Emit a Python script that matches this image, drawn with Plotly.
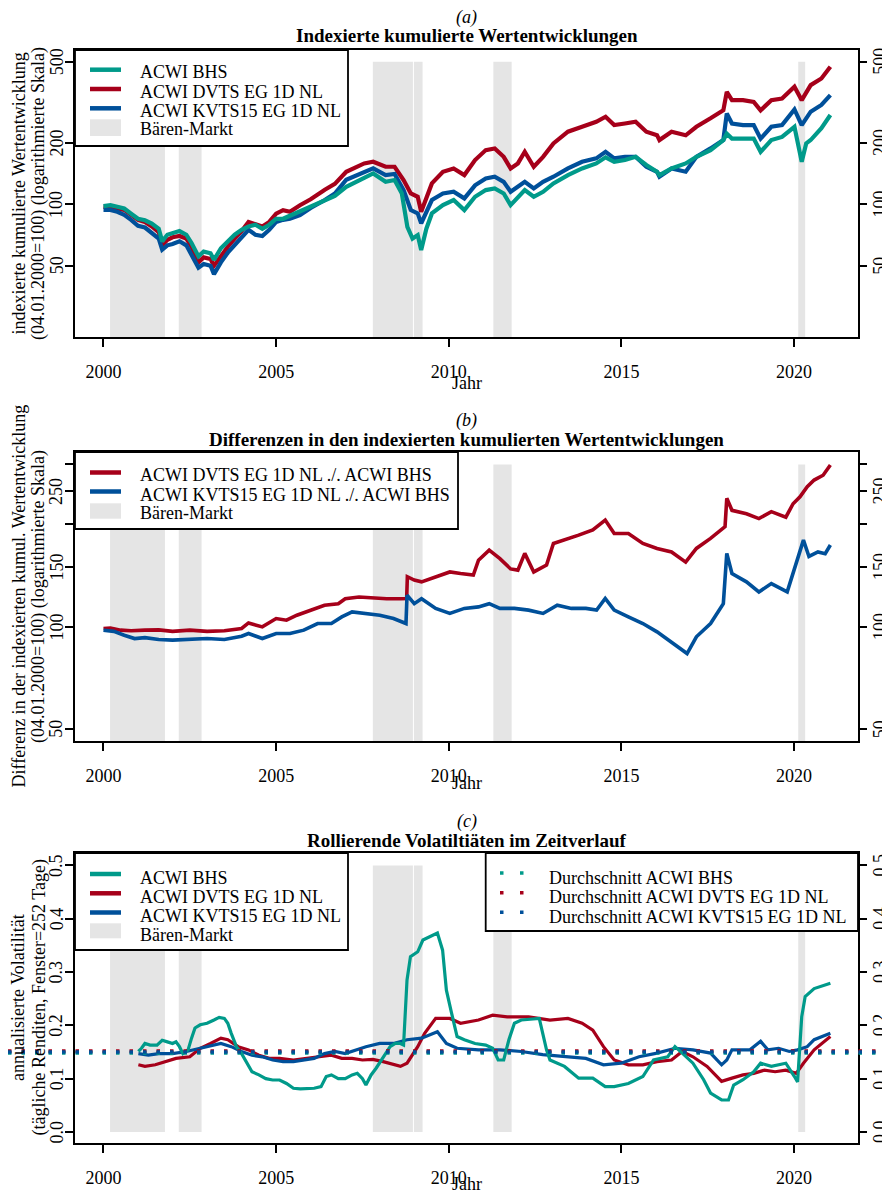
import math
import plotly.graph_objects as go

FONT = "Liberation Serif"
C_BHS = "#009A8A"
C_DVTS = "#A6001A"
C_KVTS = "#00509A"
C_BEAR = "#E5E5E5"

# ---------------- data ----------------
bear_start = [2000.19, 2002.18, 2007.80, 2008.99, 2011.29, 2020.12]
bear_end = [2001.78, 2002.84, 2008.96, 2009.24, 2011.82, 2020.32]

# Panel (a): indexed cumulative performance (04.01.2000 = 100)
a_bhs_t = [2000.0, 2000.2, 2000.4, 2000.6, 2000.8, 2001.0, 2001.2, 2001.4, 2001.6, 2001.7, 2001.85, 2002.0, 2002.2,
           2002.4, 2002.55, 2002.75, 2002.9, 2003.1, 2003.2, 2003.4, 2003.6, 2003.8, 2004.0, 2004.2, 2004.4, 2004.6,
           2004.8, 2005.0, 2005.2, 2005.4, 2005.69, 2006.0, 2006.41, 2006.7, 2007.03, 2007.55, 2007.81, 2008.17,
           2008.43, 2008.64, 2008.8, 2008.95, 2009.1, 2009.2, 2009.35, 2009.51, 2009.83, 2010.14, 2010.45, 2010.76,
           2011.07, 2011.33, 2011.59, 2011.79, 2012.0, 2012.2, 2012.46, 2012.73, 2013.03, 2013.45, 2013.86, 2014.27,
           2014.54, 2014.79, 2015.1, 2015.41, 2015.72, 2016.03, 2016.1, 2016.45, 2016.86, 2017.17, 2017.58, 2017.95,
           2018.05, 2018.2, 2018.52, 2018.83, 2019.03, 2019.34, 2019.65, 2020.01, 2020.15, 2020.22, 2020.35, 2020.48,
           2020.79, 2021.05]
a_bhs_v = [98.1, 99.2, 97.3, 95.5, 90, 85, 83.6, 80.6, 76, 65.9, 71, 72.6, 74,
           71, 64.7, 55.6, 58.7, 57.6, 53.5, 61, 65.9, 71, 75, 78, 79.5, 76,
           79.5, 85, 85, 88, 92, 98, 104, 110, 122, 134, 141.8, 129,
           131.6, 113, 77.6, 68, 70.7, 59.7, 76, 90.3, 99.2, 105, 93.8, 109,
           117.5, 119.8, 113, 99.2, 109, 117.5, 109, 115.3, 126.7, 139.2, 150, 158.7,
           170, 161.7, 164.9, 171, 155.9, 144.5, 139, 150, 158.7, 171, 184.5, 206.6,
           222, 210, 210, 210, 181, 206.6, 214, 240, 184.5, 161.7, 199, 206.6,
           236, 274]

a_dvts_t = [2000.0, 2000.2, 2000.4, 2000.6, 2000.8, 2001.0, 2001.2, 2001.4, 2001.6, 2001.7, 2001.85, 2002.0, 2002.2,
            2002.4, 2002.55, 2002.75, 2002.9, 2003.1, 2003.2, 2003.4, 2003.6, 2003.8, 2004.0, 2004.2, 2004.4, 2004.6,
            2004.8, 2005.0, 2005.2, 2005.4, 2005.69, 2006.0, 2006.41, 2006.7, 2007.03, 2007.55, 2007.81, 2008.17,
            2008.43, 2008.69, 2008.9, 2009.1, 2009.2, 2009.51, 2009.83, 2010.14, 2010.45, 2010.76, 2011.07, 2011.33,
            2011.59, 2011.79, 2012.0, 2012.2, 2012.46, 2012.73, 2013.03, 2013.45, 2013.86, 2014.27, 2014.54, 2014.79,
            2015.1, 2015.41, 2015.72, 2016.03, 2016.1, 2016.45, 2016.86, 2017.17, 2017.58, 2017.95, 2018.05, 2018.2,
            2018.52, 2018.83, 2019.03, 2019.34, 2019.65, 2020.01, 2020.22, 2020.48, 2020.79, 2021.05]
a_dvts_v = [97.5, 97, 95.5, 94, 89, 84, 82, 78, 73, 63, 67, 69, 70,
            68, 62, 52, 55, 54, 50, 56, 62, 68, 74, 82, 80, 78,
            82, 90, 93.6, 92, 99, 106, 118, 126, 144.5, 158.7, 161.7, 152.9,
            152.9, 131.6, 113.2, 109, 92, 126.7, 144.5, 150, 139.2, 164.9, 184.5, 188,
            171, 150, 158.7, 181, 152.9, 171, 199, 227, 240, 254, 268.8, 244.6,
            249, 254, 227, 218.4, 206.6, 227, 218, 240, 264, 289, 356, 324,
            324, 318, 289, 324, 330, 377, 324, 384, 414, 472]

a_kvts_t = a_dvts_t
a_kvts_v = [94, 94, 92, 89, 84, 78.5, 77, 72, 68, 60, 63, 64, 66,
            63, 57, 49, 51, 50, 45.5, 52, 58, 63, 68, 75, 71, 70,
            75, 82, 84, 85, 88.6, 96, 105, 113, 132, 144.5, 150, 139,
            141, 117.5, 93.8, 90.3, 80.7, 105, 113, 115.3, 107, 124, 134, 136.6,
            129, 115.3, 122, 129, 119.8, 129, 136.6, 150, 161.7, 168, 181, 168,
            171, 171, 152.9, 144.5, 136.6, 150, 144.5, 171, 188, 206.6, 279, 249,
            244.6, 244.6, 210, 240, 244.6, 292, 244.6, 284.5, 307, 343]

# Panel (b): differences of indexed performance
b_dvts_t = [2000.0, 2000.2, 2000.5, 2000.8, 2001.2, 2001.6, 2002.0, 2002.5, 2003.0, 2003.5, 2004.0, 2004.2, 2004.6,
            2005.0, 2005.3, 2005.6, 2006.0, 2006.4, 2006.8, 2007.0, 2007.4, 2007.8, 2008.2, 2008.6, 2008.78, 2008.8,
            2009.0, 2009.21, 2009.62, 2010.03, 2010.34, 2010.71, 2010.86, 2011.17, 2011.48, 2011.79, 2012.0, 2012.2,
            2012.46, 2012.83, 2013.03, 2013.35, 2013.76, 2014.17, 2014.53, 2014.79, 2015.2, 2015.62, 2016.03, 2016.45,
            2016.86, 2017.17, 2017.58, 2018.0, 2018.05, 2018.2, 2018.62, 2018.98, 2019.34, 2019.76, 2019.97, 2020.17,
            2020.38, 2020.58, 2020.84, 2021.05]
b_dvts_v = [98.9, 99.2, 97.8, 97.4, 97.8, 98, 97, 97.8, 97, 97.4, 98.9, 102.7, 100,
            105.8, 104.6, 108.2, 111.9, 115.8, 117, 121, 122.4, 121.6, 121, 121, 121.2, 140.4,
            137.3, 135.6, 140.4, 145, 143.5, 142, 157, 168, 158.7, 148, 146.8, 164.4,
            145, 151.9, 175.8, 179.8, 186, 192.7, 206, 188, 188, 175.8, 170, 166,
            155, 170, 182, 197, 238.6, 220, 215, 208, 218, 210, 230, 241,
            258, 270, 279, 299]

b_kvts_t = [2000.0, 2000.3, 2000.6, 2000.9, 2001.2, 2001.6, 2002.0, 2002.5, 2003.0, 2003.5, 2004.0, 2004.2, 2004.6,
            2005.0, 2005.4, 2005.8, 2006.2, 2006.6, 2006.9, 2007.2, 2007.6, 2008.0, 2008.4, 2008.76, 2008.79, 2009.0,
            2009.21, 2009.62, 2010.03, 2010.45, 2010.86, 2011.17, 2011.48, 2011.9, 2012.31, 2012.73, 2013.14, 2013.55,
            2013.97, 2014.28, 2014.53, 2014.79, 2015.2, 2015.62, 2016.03, 2016.45, 2016.9, 2017.17, 2017.58, 2017.95,
            2018.05, 2018.2, 2018.62, 2018.98, 2019.34, 2019.8, 2020.0, 2020.27, 2020.43, 2020.69, 2020.9, 2021.05]
b_kvts_v = [97.8, 97, 94.5, 92.4, 93, 91.8, 91.4, 91.8, 92.4, 91.8, 93.9, 95.6, 92.4,
            95.6, 95.6, 97.8, 102.3, 102.3, 107, 110.7, 109.5, 108.2, 105.8, 102.3, 123.9, 117,
            121, 113.3, 109.5, 113.3, 114.5, 117, 113.3, 113.3, 112, 109.5, 115.8, 113.3,
            113.3, 112, 121.2, 112, 107, 102.3, 96.7, 90.3, 83.5, 93.5, 102.3, 117,
            164.4, 143.5, 135.6, 126.7, 134, 126.7, 146.8, 179.8, 161, 166, 164, 174]

# Panel (c): rolling volatilities (252-day window)
c_bhs_t = [2001.01, 2001.1, 2001.2, 2001.35, 2001.55, 2001.7, 2001.85, 2002.0, 2002.1, 2002.2, 2002.3, 2002.45,
           2002.55, 2002.65, 2002.8, 2003.0, 2003.2, 2003.35, 2003.5, 2003.6, 2003.7, 2003.85, 2004.0, 2004.15,
           2004.3, 2004.5, 2004.7, 2004.9, 2005.1, 2005.3, 2005.5, 2005.7, 2005.9, 2006.1, 2006.3, 2006.45, 2006.6,
           2006.8, 2007.0, 2007.2, 2007.35, 2007.5, 2007.6, 2007.75, 2007.9, 2008.1, 2008.3, 2008.45, 2008.6,
           2008.69, 2008.74, 2008.79, 2008.89, 2009.1, 2009.25, 2009.51, 2009.67, 2009.82, 2009.93, 2010.08,
           2010.24, 2010.45, 2010.76, 2011.07, 2011.27, 2011.43, 2011.59, 2011.74, 2011.9, 2012.1, 2012.62,
           2012.83, 2012.93, 2013.35, 2013.76, 2014.17, 2014.53, 2014.79, 2015.2, 2015.62, 2015.93, 2016.34,
           2016.55, 2016.76, 2017.07, 2017.38, 2017.58, 2017.9, 2018.1, 2018.25, 2018.52, 2018.83, 2019.03,
           2019.34, 2019.76, 2020.01, 2020.1, 2020.22, 2020.32, 2020.58, 2021.05]
c_bhs_v = [0.151, 0.157, 0.166, 0.163, 0.163, 0.172, 0.169, 0.166, 0.169, 0.160, 0.147, 0.154,
           0.176, 0.195, 0.201, 0.204, 0.210, 0.215, 0.213, 0.204, 0.185, 0.160, 0.147, 0.129,
           0.113, 0.107, 0.100, 0.0975, 0.0975, 0.091, 0.082, 0.081, 0.081, 0.082, 0.085, 0.104, 0.107,
           0.100, 0.100, 0.107, 0.110, 0.100, 0.088, 0.107, 0.120, 0.141, 0.160, 0.166, 0.166,
           0.163, 0.216, 0.285, 0.329, 0.338, 0.360, 0.369, 0.373, 0.341, 0.266, 0.223,
           0.179, 0.173, 0.166, 0.163, 0.157, 0.135, 0.135, 0.173, 0.204, 0.210, 0.213,
           0.154, 0.135, 0.123, 0.101, 0.101, 0.085, 0.085, 0.091, 0.104, 0.135, 0.141,
           0.160, 0.148, 0.129, 0.098, 0.073, 0.060, 0.060, 0.088, 0.098, 0.113, 0.129,
           0.123, 0.129, 0.104, 0.094, 0.216, 0.254, 0.269, 0.279]

c_dvts_t = [2001.01, 2001.2, 2001.5, 2001.8, 2002.1, 2002.5, 2002.8, 2003.1, 2003.4, 2003.6, 2003.9, 2004.2, 2004.5,
            2004.8, 2005.1, 2005.5, 2005.9, 2006.3, 2006.6, 2006.9, 2007.2, 2007.5, 2007.8, 2008.1, 2008.4, 2008.6,
            2008.79, 2009.1, 2009.3, 2009.62, 2010.03, 2010.34, 2010.86, 2011.27, 2011.69, 2012.31, 2012.93, 2013.45,
            2013.86, 2014.17, 2014.48, 2014.79, 2015.2, 2015.62, 2016.03, 2016.45, 2016.76, 2017.07, 2017.48, 2017.9,
            2018.2, 2018.52, 2018.83, 2019.14, 2019.45, 2019.76, 2020.06, 2020.27, 2020.58, 2021.05]
c_dvts_v = [0.126, 0.123, 0.126, 0.132, 0.138, 0.141, 0.157, 0.166, 0.176, 0.173, 0.160, 0.154, 0.144,
            0.138, 0.138, 0.135, 0.138, 0.141, 0.144, 0.138, 0.138, 0.135, 0.136, 0.132, 0.126, 0.123,
            0.129, 0.160, 0.185, 0.213, 0.213, 0.204, 0.210, 0.219, 0.216, 0.216, 0.210, 0.213,
            0.204, 0.191, 0.160, 0.135, 0.126, 0.126, 0.132, 0.135, 0.151, 0.141, 0.123, 0.095,
            0.101, 0.107, 0.110, 0.116, 0.113, 0.116, 0.110, 0.129, 0.154, 0.179]

c_kvts_t = [2001.01, 2001.3, 2001.6, 2002.0, 2002.4, 2002.8, 2003.1, 2003.4, 2003.7, 2004.0, 2004.3, 2004.6, 2004.9,
            2005.2, 2005.5, 2005.8, 2006.1, 2006.4, 2006.7, 2007.0, 2007.3, 2007.6, 2008.0, 2008.4, 2008.79, 2009.21,
            2009.67, 2009.93, 2010.24, 2010.86, 2011.48, 2012.1, 2012.72, 2013.35, 2013.97, 2014.48, 2014.99, 2015.51,
            2016.03, 2016.55, 2017.07, 2017.58, 2017.9, 2018.05, 2018.2, 2018.72, 2019.03, 2019.24, 2019.55, 2019.86,
            2020.1, 2020.38, 2020.58, 2021.05]
c_kvts_v = [0.147, 0.144, 0.147, 0.147, 0.151, 0.157, 0.160, 0.166, 0.160, 0.151, 0.144, 0.141, 0.135,
            0.132, 0.132, 0.135, 0.138, 0.147, 0.151, 0.147, 0.154, 0.160, 0.166, 0.166, 0.173, 0.176,
            0.188, 0.166, 0.157, 0.154, 0.154, 0.151, 0.145, 0.141, 0.138, 0.126, 0.129, 0.141,
            0.148, 0.157, 0.154, 0.148, 0.126, 0.135, 0.154, 0.154, 0.170, 0.154, 0.157, 0.151,
            0.154, 0.160, 0.173, 0.185]

avg_names = ["Durchschnitt ACWI BHS", "Durchschnitt ACWI DVTS EG 1D NL", "Durchschnitt ACWI KVTS15 EG 1D NL"]
avg_values = [0.148, 0.152, 0.150]

x_ticks = [2000, 2005, 2010, 2015, 2020]
a_yticks = [50, 100, 200, 500]
a_ylabels = ["50", "100", "200", "500"]
b_yticks = [50, 100, 150, 200, 250, 300]
b_ylabels = ["50", "100", "150", "", "250", ""]
c_yticks = [0.0, 0.1, 0.2, 0.3, 0.4, 0.5]
c_ylabels = ["0.0", "0.1", "0.2", "0.3", "0.4", "0.5"]

# ---------------- geometry (reference pixel coordinates) ----------------
OX, OY = 8, 8             # page offset of the plot div in the browser (body margin)
FW, FH = 890 - OX, 1193 - OY


def PX(x):
    return (x - OX) / FW


def PY(y):
    return 1 - (y - OY) / FH


PL, PR = 75, 858
panel_px = [(50, 337), (452, 741), (853, 1143)]
jahr_py = [383, 783, 1183.5]
X_RANGE = [1999.175, 2021.85]
Y_RANGES = [[math.log10(22.4), math.log10(570.6)], [1.6647, 2.5138], [-0.0207, 0.5233]]
Y_TYPES = ["log", "log", "linear"]
BEAR_TOP = [500, 300, 0.5]
BEAR_BOT = [1, 1, 0.0]

XA = ["x", "x2", "x3"]
YA = ["y", "y2", "y3"]
YR = ["y4", "y5", "y6"]

fig = go.Figure()
tickfont = dict(family=FONT, size=18, color="black")

for i in range(3):
    bx, by = [], []
    for s, e in zip(bear_start, bear_end):
        bx += [s, e, e, s, s, None]
        by += [BEAR_BOT[i], BEAR_BOT[i], BEAR_TOP[i], BEAR_TOP[i], BEAR_BOT[i], None]
    fig.add_trace(go.Scatter(x=bx, y=by, mode="lines", fill="toself", fillcolor=C_BEAR,
                             line=dict(width=0, color=C_BEAR), xaxis=XA[i], yaxis=YA[i],
                             showlegend=False, hoverinfo="skip"))


def add_line(t, v, color, width, panel):
    fig.add_trace(go.Scatter(x=t, y=v, mode="lines", line=dict(color=color, width=width),
                             xaxis=XA[panel], yaxis=YA[panel], showlegend=False, hoverinfo="skip"))


add_line(a_dvts_t, a_dvts_v, C_DVTS, 4.2, 0)
add_line(a_kvts_t, a_kvts_v, C_KVTS, 4.2, 0)
add_line(a_bhs_t, a_bhs_v, C_BHS, 4.2, 0)
add_line(b_dvts_t, b_dvts_v, C_DVTS, 3.6, 1)
add_line(b_kvts_t, b_kvts_v, C_KVTS, 3.6, 1)
add_line(c_dvts_t, c_dvts_v, C_DVTS, 3.2, 2)
add_line(c_kvts_t, c_kvts_v, C_KVTS, 3.2, 2)
add_line(c_bhs_t, c_bhs_v, C_BHS, 3.2, 2)

# invisible traces so the right-hand axes are drawn
for i in range(3):
    fig.add_trace(go.Scatter(x=[None], y=[None], xaxis=XA[i], yaxis=YR[i],
                             showlegend=False, hoverinfo="skip"))

layout = dict(width=FW, height=FH, margin=dict(l=0, r=0, t=0, b=0, autoexpand=False), autosize=False,
              paper_bgcolor="white", plot_bgcolor="white", showlegend=False,
              font=dict(family=FONT, size=18, color="black"))

yticks_all = [(a_yticks, a_ylabels), (b_yticks, b_ylabels), (c_yticks, c_ylabels)]
for i in range(3):
    top, bot = panel_px[i]
    xk = "xaxis" if i == 0 else f"xaxis{i+1}"
    yk = "yaxis" if i == 0 else f"yaxis{i+1}"
    layout[xk] = dict(domain=[PX(PL), PX(PR)], anchor=YA[i], range=X_RANGE, tickvals=x_ticks,
                      ticks="outside", ticklen=8, tickwidth=1.5, tickcolor="black",
                      showline=True, linecolor="black", linewidth=2, mirror=True, automargin=False,
                      showgrid=False, zeroline=False, tickfont=tickfont, ticklabelstandoff=9)
    tv, tt = yticks_all[i]
    ycommon = dict(domain=[PY(bot), PY(top)], type=Y_TYPES[i], range=Y_RANGES[i],
                   tickvals=tv, ticks="outside", ticklen=8, tickwidth=1.5,
                   tickcolor="black", showgrid=False, zeroline=False, showticklabels=False,
                   automargin=False)
    layout[yk] = dict(ycommon, anchor=XA[i], showline=True, linecolor="black", linewidth=2, mirror=True)
    layout["yaxis" + YR[i][1:]] = dict(ycommon, anchor=XA[i], overlaying=YA[i], side="right",
                                       showline=False)

fig.update_layout(**layout)

# ---------------- annotations (titles, axis titles, y tick labels) ----------------
ann = []


def text(x, y, s, size=18, angle=0, xanchor="center", yanchor="middle"):
    ann.append(dict(x=PX(x), y=PY(y), xref="paper", yref="paper", text=s, showarrow=False,
                    textangle=angle, xanchor=xanchor, yanchor=yanchor,
                    font=dict(family=FONT, size=size, color="black")))


# rotated y tick labels on both sides, positioned through the y axes
for i in range(3):
    tv, tt = yticks_all[i]
    for v, lab in zip(tv, tt):
        if not lab:
            continue
        yv = math.log10(v) if Y_TYPES[i] == "log" else v
        for xpix in (56.5, 880.0):
            ann.append(dict(x=PX(xpix), y=yv, xref="paper", yref=YA[i], text=lab, showarrow=False,
                            textangle=-90, xanchor="center", yanchor="middle",
                            font=dict(family=FONT, size=18, color="black")))

cx = (PL + PR) / 2
titles = [("(a)", "Indexierte kumulierte Wertentwicklungen", 17.5, 35),
          ("(b)", "Differenzen in den indexierten kumulierten Wertentwicklungen", 420.8, 439),
          ("(c)", "Rollierende Volatiltiäten im Zeitverlauf", 821.7, 840)]
for lab, ttl, y1, y2 in titles:
    text(cx, y1, f"<i>{lab}</i>")
    text(cx, y2, f"<b>{ttl}</b>", size=19)

ytitles = [("indexierte kumulierte Wertentwicklung", "(04.01.2000=100) (logarithmierte Skala)"),
           ("Differenz in der indexierten kumul. Wertentwicklung", "(04.01.2000=100) (logarithmierte Skala)"),
           ("annualisierte Volatilität", "(tägliche Renditen, Fenster=252 Tage)")]
for i, (l1, l2) in enumerate(ytitles):
    top, bot = panel_px[i]
    yc = (top + bot) / 2
    text(18, yc, l1, angle=-90)
    text(38.5, yc, l2, angle=-90)
    text(cx, jahr_py[i], "Jahr")

# ---------------- legends (drawn) ----------------
shapes = []


def box(x0, y0, x1, y1):
    shapes.append(dict(type="rect", xref="paper", yref="paper", x0=PX(x0), x1=PX(x1), y0=PY(y1), y1=PY(y0),
                       line=dict(color="black", width=1.8), fillcolor="white", layer="above"))


def sample_line(x0, x1, y, color, width=4.5, dash="solid"):
    shapes.append(dict(type="line", xref="paper", yref="paper", x0=PX(x0), x1=PX(x1), y0=PY(y), y1=PY(y),
                       line=dict(color=color, width=width, dash=dash), layer="above"))


def sample_rect(x0, x1, y0, y1):
    shapes.append(dict(type="rect", xref="paper", yref="paper", x0=PX(x0), x1=PX(x1), y0=PY(y1), y1=PY(y0),
                       line=dict(width=0), fillcolor=C_BEAR, layer="above"))


names_main = ["ACWI BHS", "ACWI DVTS EG 1D NL", "ACWI KVTS15 EG 1D NL", "Bären-Markt"]
colors_main = [C_BHS, C_DVTS, C_KVTS]

# legend (a)
box(PL, 50, 348, 146)
rows = [72.2, 91.5, 110.8, 129.5]
for r, c in zip(rows[:3], colors_main):
    sample_line(90, 121, r - 2.5, c)
sample_rect(90, 121, 119.3, 136)
for r, n in zip(rows, names_main):
    text(138, r, n, xanchor="left")

# legend (b)
box(PL, 452, 458, 529)
rows_b = [475.5, 494.5, 513.0]
names_b = ["ACWI DVTS EG 1D NL ./. ACWI BHS", "ACWI KVTS15 EG 1D NL ./. ACWI BHS", "Bären-Markt"]
for r, c in zip(rows_b[:2], [C_DVTS, C_KVTS]):
    sample_line(90, 121, r - 3, c)
sample_rect(90, 121, 503.3, 518.7)
for r, n in zip(rows_b, names_b):
    text(138, r, n, xanchor="left")

# legend (c) left
box(PL, 853, 348, 950)
rows_c = [877.5, 896.8, 916.0, 934.5]
for r, c in zip(rows_c[:3], colors_main):
    sample_line(90, 121, r - 3.5, c)
sample_rect(90, 121, 923.3, 938.3)
for r, n in zip(rows_c, names_main):
    text(138, r, n, xanchor="left")

# average lines (dotted, across the full width)
avg_colors = [C_BHS, C_DVTS, C_KVTS]
for v, c in zip(avg_values, avg_colors):
    shapes.append(dict(type="line", xref="paper", yref="y3", x0=PX(8), x1=PX(890), y0=v, y1=v,
                       line=dict(color=c, width=3.5, dash="3.5px,10px"), layer="above"))

# legend (c) right
box(485.7, 853, PR, 931)
rows_d = [877.5, 897.3, 916.7]
for r, c, n in zip(rows_d, avg_colors, avg_names):
    sample_line(500, 523.5, r - 4.5, c, width=3.5, dash="3.5px,16.5px")
    text(546.7, r, n, xanchor="left")

fig.update_layout(annotations=ann, shapes=shapes)
fig.write_html("out.html")
